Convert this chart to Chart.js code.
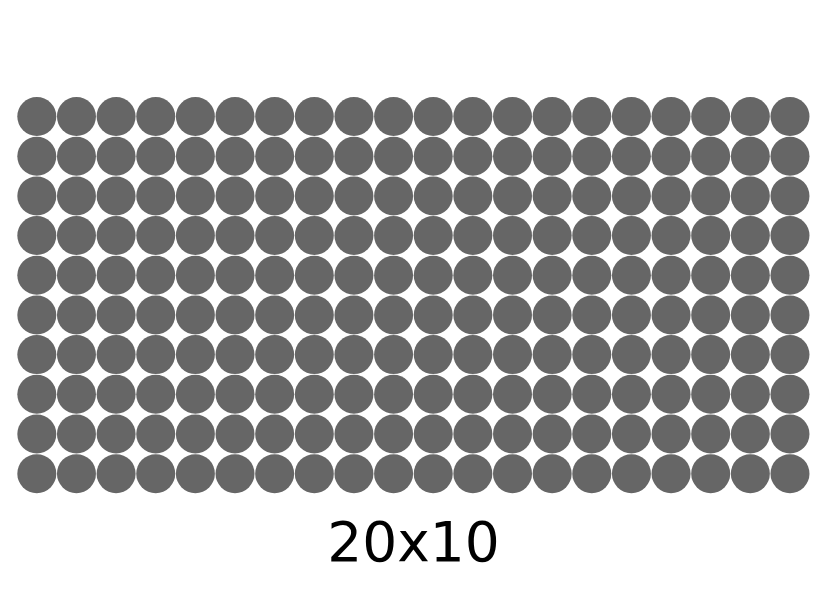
<!DOCTYPE html>
<html>
<head>
<meta charset="utf-8">
<script src="https://cdn.jsdelivr.net/npm/chart.js@4/dist/chart.umd.min.js"></script>
<style>
html,body{margin:0;padding:0;background:#fff;overflow:hidden;}
canvas{display:block;}
</style>
</head>
<body>
<canvas id="c" width="827" height="591"></canvas>
<script>
const columns = [0,1,2,3,4,5,6,7,8,9,10,11,12,13,14,15,16,17,18,19];
const rows = [0,1,2,3,4,5,6,7,8,9];
const titleText = "20x10";

const points = [];
rows.forEach(r => columns.forEach(c => points.push({x: c, y: r})));

new Chart(document.getElementById('c'), {
  type: 'scatter',
  data: {
    datasets: [{
      data: points,
      backgroundColor: '#666666',
      borderWidth: 0,
      pointRadius: 19.5,
      pointHoverRadius: 19.5,
      clip: false
    }]
  },
  options: {
    responsive: false,
    animation: false,
    devicePixelRatio: 1,
    layout: { autoPadding: false, padding: { left: 17, right: 17.2, top: 96.7, bottom: 0 } },
    scales: {
      x: { display: false, min: -0.5, max: 19.5 },
      y: { display: false, min: -0.5, max: 9.5, reverse: true }
    },
    plugins: {
      legend: { display: false },
      tooltip: { enabled: false },
      title: {
        display: true,
        text: titleText,
        position: 'bottom',
        color: '#000000',
        font: { family: 'DejaVu Sans', size: 55, weight: 'normal', lineHeight: 1.2 },
        padding: { top: 20.6, bottom: 10.9 }
      }
    }
  }
});
</script>
</body>
</html>
